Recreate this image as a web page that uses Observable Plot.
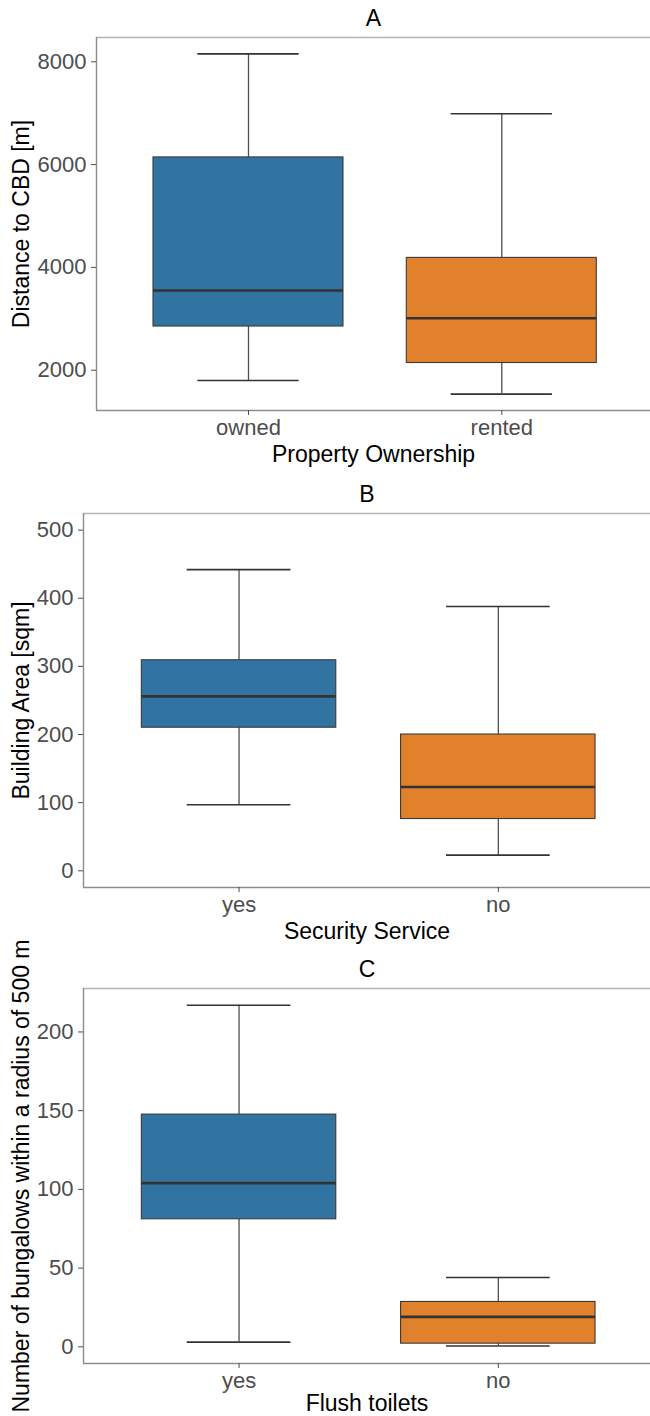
<!DOCTYPE html>
<html>
<head>
<meta charset="utf-8">
<script src="https://cdn.jsdelivr.net/npm/d3@7"></script>
<script src="https://cdn.jsdelivr.net/npm/@observablehq/plot@0.6"></script>
<style>
  html, body { margin: 0; padding: 0; background: white; }
  #chart > svg { display: block; }
</style>
</head>
<body>
<div id="chart"></div>
<script>
// Panel A
const catsA = ["owned", "rented"];
const lowA = [1800, 1535];
const q1A = [2850, 2140];
const medA = [3550, 3010];
const q3A = [6140, 4185];
const highA = [8155, 6990];
const ticksA = [2000, 4000, 6000, 8000];

// Panel B
const catsB = ["yes", "no"];
const lowB = [97, 23];
const q1B = [210, 76];
const medB = [256, 123];
const q3B = [309, 200];
const highB = [442, 388];
const ticksB = [0, 100, 200, 300, 400, 500];

// Panel C
const catsC = ["yes", "no"];
const lowC = [3, 0.5];
const q1C = [81, 2];
const medC = [104, 19];
const q3C = [147.5, 28.5];
const highC = [217, 44];
const ticksC = [0, 50, 100, 150, 200];

const boxColors = ["#3274A1", "#E1812C"];
const FONT = "'Liberation Sans', Arial, Helvetica, sans-serif";

function panel(o) {
  const data = o.cats.map((c, i) => ({
    pos: i + 1, cat: c, low: o.low[i], q1: o.q1[i], med: o.med[i], q3: o.q3[i], high: o.high[i], color: boxColors[i]
  }));
  const [y0, y1] = o.yDomain;
  const xd = [0.4, 2.587];
  const txt = {textAnchor: "middle", lineAnchor: "middle", fontSize: 23, fill: "black"};
  return Plot.plot({
    width: 650,
    height: o.height,
    marginTop: o.marginTop,
    marginBottom: o.marginBottom,
    marginLeft: o.marginLeft,
    marginRight: 0,
    x: {type: "linear", domain: xd, axis: null},
    y: {domain: o.yDomain, axis: null},
    color: {type: "identity"},
    style: {fontFamily: FONT, background: "white", overflow: "visible"},
    marks: [
      Plot.ruleY([y1], {stroke: "#b4b4b4", strokeWidth: 1.3}),
      Plot.ruleX([xd[0]], {stroke: "#8c8c8c", strokeWidth: 1.4}),
      Plot.ruleY([y0], {stroke: "#8c8c8c", strokeWidth: 1.4}),
      Plot.axisY({ticks: o.yTicks, tickFormat: d => String(d), tickSize: 5, tickPadding: 5, fontSize: 22, color: "#4d4d4d", label: null}),
      Plot.axisX({ticks: [1, 2], tickFormat: d => o.cats[d - 1], tickSize: 5, tickPadding: 4, fontSize: 22, color: "#4d4d4d", label: null}),
      Plot.ruleX(data, {x: "pos", y1: "low", y2: "q1", stroke: "#505050", strokeWidth: 1.3}),
      Plot.ruleX(data, {x: "pos", y1: "q3", y2: "high", stroke: "#505050", strokeWidth: 1.3}),
      Plot.ruleY(data, {y: "low", x1: d => d.pos - 0.2, x2: d => d.pos + 0.2, stroke: "#333", strokeWidth: 1.6}),
      Plot.ruleY(data, {y: "high", x1: d => d.pos - 0.2, x2: d => d.pos + 0.2, stroke: "#333", strokeWidth: 1.6}),
      Plot.rect(data, {x1: d => d.pos - 0.375, x2: d => d.pos + 0.375, y1: "q1", y2: "q3", fill: "color", stroke: "#3a3a3a", strokeWidth: 1.1}),
      Plot.ruleY(data, {y: "med", x1: d => d.pos - 0.375, x2: d => d.pos + 0.375, stroke: "#333", strokeWidth: 2.6}),
      Plot.text([o.title], {...txt, text: d => d, frameAnchor: "top", dy: -19}),
      Plot.text([o.xLabel], {...txt, text: d => d, frameAnchor: "bottom", dy: o.xLabelDy}),
      Plot.text([o.yLabel], {...txt, text: d => d, frameAnchor: "left", rotate: -90, dx: o.yLabelDx})
    ]
  });
}

const chart = document.getElementById("chart");
chart.append(panel({
  cats: catsA, low: lowA, q1: q1A, med: medA, q3: q3A, high: highA,
  yDomain: [1216, 8473], yTicks: ticksA,
  title: "A", xLabel: "Property Ownership", yLabel: "Distance to CBD [m]",
  height: 475, marginTop: 37, marginBottom: 65, marginLeft: 96, yLabelDx: -74.5, xLabelDy: 44
}));
chart.append(panel({
  cats: catsB, low: lowB, q1: q1B, med: medB, q3: q3B, high: highB,
  yDomain: [-24.5, 524.4], yTicks: ticksB,
  title: "B", xLabel: "Security Service", yLabel: "Building Area [sqm]",
  height: 475, marginTop: 38, marginBottom: 63, marginLeft: 83, yLabelDx: -61.5, xLabelDy: 44
}));
chart.append(panel({
  cats: catsC, low: lowC, q1: q1C, med: medC, q3: q3C, high: highC,
  yDomain: [-10.6, 227.6], yTicks: ticksC,
  title: "C", xLabel: "Flush toilets", yLabel: "Number of bungalows within a radius of 500 m",
  height: 466, marginTop: 38, marginBottom: 53, marginLeft: 83, yLabelDx: -61.5, xLabelDy: 40
}));
</script>
</body>
</html>
